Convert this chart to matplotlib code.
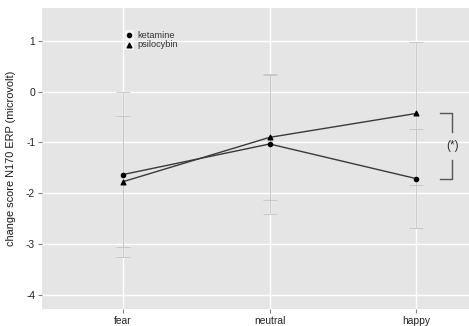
import matplotlib

matplotlib.use("Agg")
import matplotlib.pyplot as plt
from matplotlib.patches import Rectangle

plt.rcParams["font.family"] = ["Liberation Sans", "DejaVu Sans"]
plt.rcParams["axes.unicode_minus"] = False

emotions = ["fear", "neutral", "happy"]
ketamine = [-1.63, -1.03, -1.71]
ketamine_err = [1.62, 1.37, 0.97]
psilocybin = [-1.77, -0.90, -0.43]
psilocybin_err = [1.29, 1.22, 1.40]

W, H = 469, 326
fig = plt.figure(figsize=(W / 100, H / 100), dpi=100)
ax = fig.add_axes([42 / W, 1 - 309 / H, (W - 42) / W, (309 - 7.5) / H])
ax.set_facecolor("#e5e5e5")
for s in ax.spines.values():
    s.set_visible(False)

x = list(range(1, len(emotions) + 1))

for vals, errs in [(ketamine, ketamine_err), (psilocybin, psilocybin_err)]:
    ax.errorbar(x, vals, yerr=errs, fmt="none", ecolor="#c4c4c4",
                elinewidth=0.6, capsize=5, capthick=0.6, zorder=2)

ax.plot(x, ketamine, color="#3a3a3a", lw=1.0, zorder=3)
ax.plot(x, psilocybin, color="#3a3a3a", lw=1.0, zorder=3)
ax.scatter(x, ketamine, marker="o", s=9, color="black", zorder=4, label="ketamine")
ax.scatter(x, psilocybin, marker="^", s=11, color="black", zorder=4, label="psilocybin")

ax.set_xlim(0.447, 3.36)
ax.set_ylim(-4.27, 1.65)
ax.set_xticks(x)
ax.set_xticklabels(emotions)
ax.set_yticks([1, 0, -1, -2, -3, -4])
ax.grid(True, color="white", lw=1.0)
ax.set_axisbelow(True)
ax.tick_params(axis="both", length=3, color="#7f7f7f", labelsize=7.4,
               labelcolor="#222222", pad=2)
ax.set_ylabel("change score N170 ERP (microvolt)", fontsize=7.9, color="#1a1a1a", labelpad=7)

# significance bracket between happy values
bx, tx = 3.246, 3.164
top, bot = psilocybin[2], ketamine[2]
mid = (top + bot) / 2
ax.plot([tx, bx, bx], [top, top, mid + 0.28], color="#555555", lw=1.0)
ax.plot([tx, bx, bx], [bot, bot, mid - 0.28], color="#555555", lw=1.0)
ax.text(bx, mid, "(*)", ha="center", va="center", fontsize=8.5, color="#333333")

# legend key background
ax.add_patch(Rectangle((0.194, 0.859), 0.021, 0.066, transform=ax.transAxes,
                       facecolor="#f4f4f4", edgecolor="none", zorder=1))
leg = ax.legend(loc="upper left", bbox_to_anchor=(0.193, 0.923), frameon=False,
                fontsize=6.6, handletextpad=0.4, borderpad=0, labelspacing=0.05,
                handlelength=1.0, borderaxespad=0)
for t in leg.get_texts():
    t.set_color("#333333")

fig.savefig("out.png", dpi=100)
